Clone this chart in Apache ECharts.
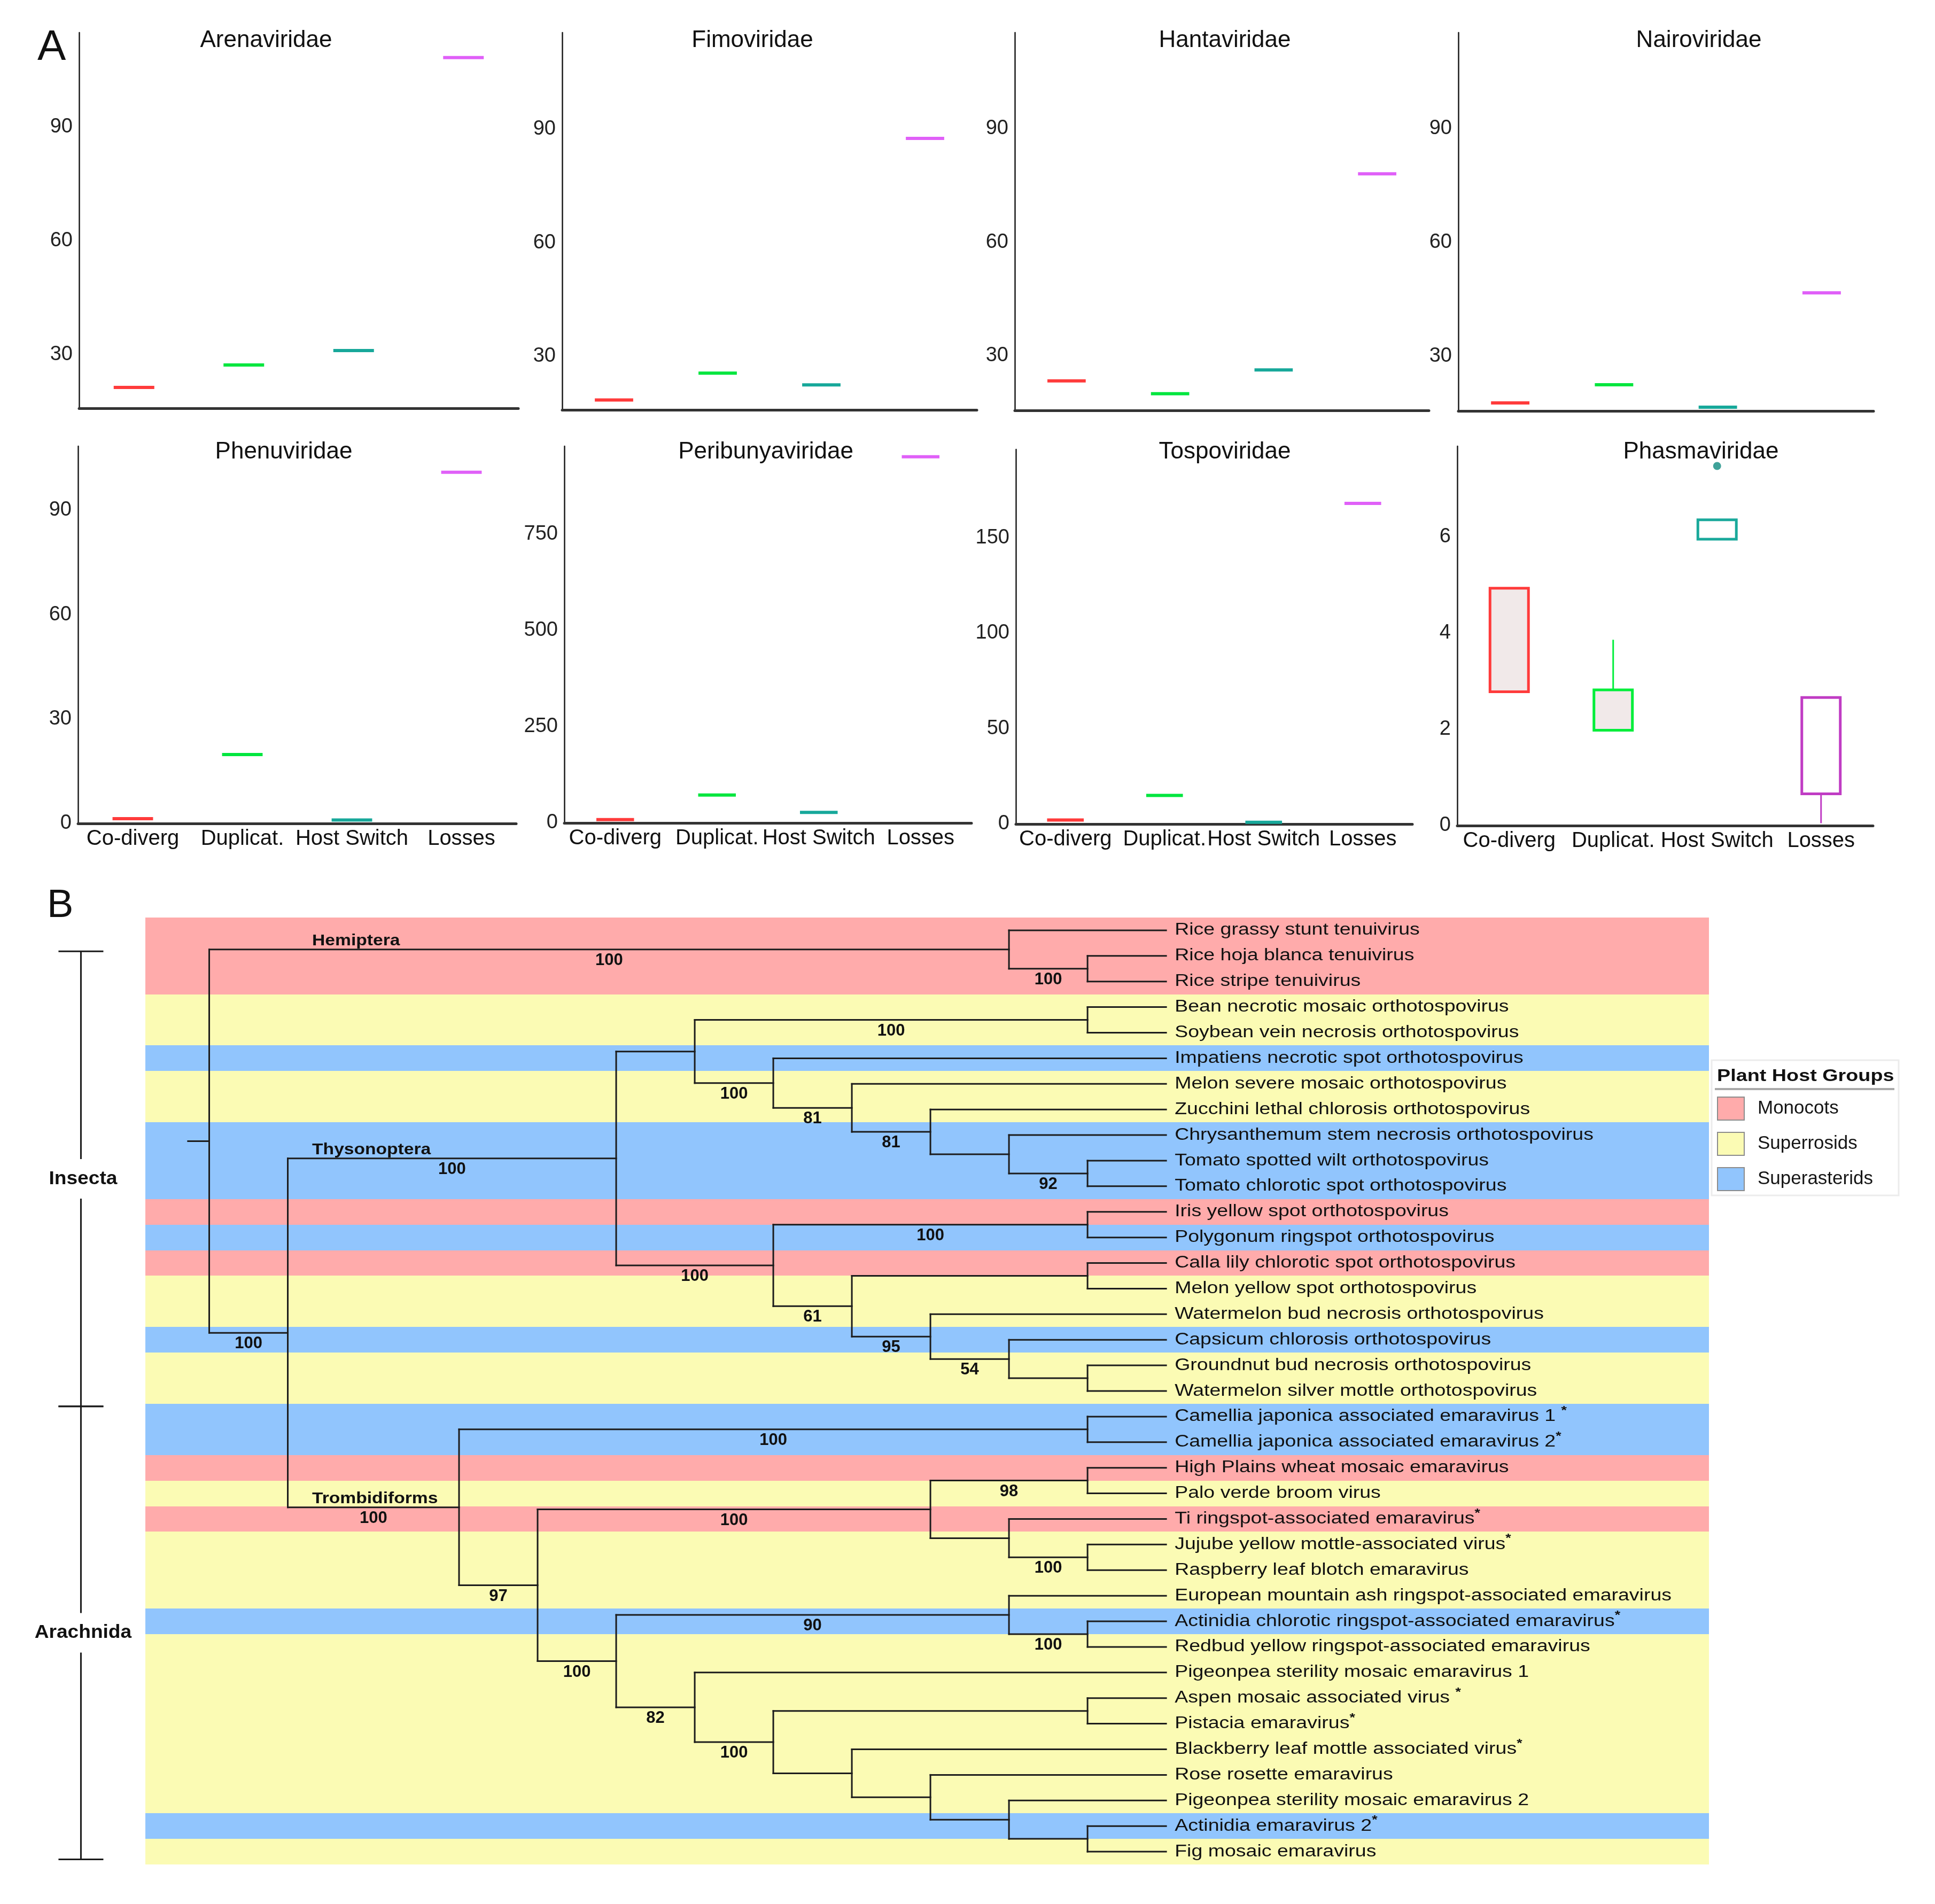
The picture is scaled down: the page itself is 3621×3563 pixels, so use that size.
<!DOCTYPE html>
<html>
<head>
<meta charset="utf-8">
<script src="https://cdn.jsdelivr.net/npm/echarts@6.0.0/dist/echarts.min.js"></script>
<style>
html, body { margin: 0; padding: 0; background: #ffffff; }
#chart { width: 3621px; height: 3563px; }
</style>
</head>
<body>
<div id="chart"></div>
<script>
// ======================= DATA =======================
// ---- Panel A : reconciliation event counts per family ----
const categories = ['Co-diverg', 'Duplicat.', 'Host Switch', 'Losses'];
const familyNames = ['Arenaviridae', 'Fimoviridae', 'Hantaviridae', 'Nairoviridae',
                     'Phenuviridae', 'Peribunyaviridae', 'Tospoviridae', 'Phasmaviridae'];
// single-valued families: [Co-diverg, Duplicat., Host Switch, Losses]
const arenaviridae     = [21.3, 27.2, 31.0, 108.2];
const fimoviridae      = [18.5, 25.6, 22.5, 87.5];
const hantaviridae     = [23.4, 20.0, 26.3, 78.1];
const nairoviridae     = [17.6, 22.4, 16.5, 46.7];
const phenuviridae     = [1.4, 19.8, 1.0, 100.9];
const peribunyaviridae = [8.5, 72.4, 27.3, 950.6];
const tospoviridae     = [2.1, 15.0, 0.9, 167.9];
// Phasmaviridae box statistics: [min, Q1, median, Q3, max]
const phasmaCodiverg   = [2.78, 2.78, 4.93, 4.93, 4.93];
const phasmaDuplicat   = [1.98, 1.98, 2.82, 2.82, 3.86];
const phasmaHostSwitch = [5.95, 5.95, 6.35, 6.35, 6.35];
const phasmaLosses     = [0.05, 0.66, 2.66, 2.66, 2.66];
const phasmaOutliers   = [[2, 7.47]];
// value-axis ranges and labelled tick values
const axisMin = [15.8, 15.9, 15.6, 15.5, 0, 0, 0, 0];
const axisMax = [114.8, 115.4, 115.4, 115.4, 108.4, 978, 196.2, 7.88];
const tickValues = [[30, 60, 90], [30, 60, 90], [30, 60, 90], [30, 60, 90],
                    [0, 30, 60, 90], [0, 250, 500, 750], [0, 50, 100, 150], [0, 2, 4, 6]];

// ---- Panel B : phylogeny ----
const leafNames = [
  'Rice grassy stunt tenuivirus', 'Rice hoja blanca tenuivirus', 'Rice stripe tenuivirus',
  'Bean necrotic mosaic orthotospovirus', 'Soybean vein necrosis orthotospovirus',
  'Impatiens necrotic spot orthotospovirus', 'Melon severe mosaic orthotospovirus',
  'Zucchini lethal chlorosis orthotospovirus', 'Chrysanthemum stem necrosis orthotospovirus',
  'Tomato spotted wilt orthotospovirus', 'Tomato chlorotic spot orthotospovirus',
  'Iris yellow spot orthotospovirus', 'Polygonum ringspot orthotospovirus',
  'Calla lily chlorotic spot orthotospovirus', 'Melon yellow spot orthotospovirus',
  'Watermelon bud necrosis orthotospovirus', 'Capsicum chlorosis orthotospovirus',
  'Groundnut bud necrosis orthotospovirus', 'Watermelon silver mottle orthotospovirus',
  'Camellia japonica associated emaravirus 1 *', 'Camellia japonica associated emaravirus 2*',
  'High Plains wheat mosaic emaravirus', 'Palo verde broom virus', 'Ti ringspot-associated emaravirus*',
  'Jujube yellow mottle-associated virus*', 'Raspberry leaf blotch emaravirus',
  'European mountain ash ringspot-associated emaravirus',
  'Actinidia chlorotic ringspot-associated emaravirus*', 'Redbud yellow ringspot-associated emaravirus',
  'Pigeonpea sterility mosaic emaravirus 1', 'Aspen mosaic associated virus *', 'Pistacia emaravirus*',
  'Blackberry leaf mottle associated virus*', 'Rose rosette emaravirus',
  'Pigeonpea sterility mosaic emaravirus 2', 'Actinidia emaravirus 2*', 'Fig mosaic emaravirus'
];
// host group per leaf: M = Monocots, R = Superrosids, A = Superasterids
const leafHosts = ['M','M','M','R','R','A','R','R','A','A','A','M','A','M','R','R','A','R','R',
                   'A','A','M','R','M','R','R','R','A','R','R','R','R','R','R','R','A','R'];
const hostGroups = ['Monocots', 'Superrosids', 'Superasterids'];
const hostCodes = ['M', 'R', 'A'];
// tree topology: d = node depth, b = bootstrap support, clade = clade name, c = children (leaf indices or nodes)
const tree = {d: 0, c: [
  {d: 10.18, b: 100, clade: 'Hemiptera', c: [0, {d: 11.18, b: 100, c: [1, 2]}]},
  {d: 1, b: 100, c: [
    {d: 5.18, b: 100, clade: 'Thysonoptera', c: [
      {d: 6.18, c: [
        {d: 11.18, b: 100, c: [3, 4]},
        {d: 7.18, b: 100, c: [5, {d: 8.18, b: 81, c: [6, {d: 9.18, b: 81, c: [7,
          {d: 10.18, c: [8, {d: 11.18, b: 92, c: [9, 10]}]}]}]}]}
      ]},
      {d: 7.18, b: 100, c: [
        {d: 11.18, b: 100, c: [11, 12]},
        {d: 8.18, b: 61, c: [
          {d: 11.18, c: [13, 14]},
          {d: 9.18, b: 95, c: [15, {d: 10.18, b: 54, c: [16, {d: 11.18, c: [17, 18]}]}]}
        ]}
      ]}
    ]},
    {d: 3.18, b: 100, clade: 'Trombidiforms', c: [
      {d: 11.18, b: 100, c: [19, 20]},
      {d: 4.18, b: 97, c: [
        {d: 9.18, b: 100, c: [{d: 11.18, b: 98, c: [21, 22]}, {d: 10.18, c: [23, {d: 11.18, b: 100, c: [24, 25]}]}]},
        {d: 5.18, b: 100, c: [
          {d: 10.18, b: 90, c: [26, {d: 11.18, b: 100, c: [27, 28]}]},
          {d: 6.18, b: 82, c: [29, {d: 7.18, b: 100, c: [
            {d: 11.18, c: [30, 31]},
            {d: 8.18, c: [32, {d: 9.18, c: [33, {d: 10.18, c: [34, {d: 11.18, c: [35, 36]}]}]}]}
          ]}]}
        ]}
      ]}
    ]}
  ]}
]};
// arthropod vector classes: [first row position, last row position]
const taxonNames = ['Insecta', 'Arachnida'];
const taxonRanges = [[0.82, 18.6], [18.6, 36.3]];

// ======================= STYLE / LAYOUT =======================
const FONT = '"Liberation Sans", Arial, Helvetica, sans-serif';
const markColors = ['#ff3b3b', '#00e63e', '#17a89a', '#e060f8'];
const phasmaColors = ['#ff3b3b', '#00ee3a', '#1aa99b', '#c03cc4'];
const phasmaFills = ['#f1e9e9', '#f1e9e9', '#ffffff', '#ffffff'];
const hostColors = ['#ffabab', '#fbfbb4', '#91c5fd'];
const gridBoxes = [[148, 61, 822, 703], [1052, 61, 776, 706], [1899, 61, 775, 707], [2729, 61, 777, 708],
                   [146, 835, 820, 706], [1056, 835, 762, 705], [1901, 841, 742, 701], [2727, 835, 778, 710]];
const titleX = [498, 1408, 2292, 3179, 531, 1433, 2292, 3183];
const titleY = [78, 78, 78, 78, 848, 848, 848, 848];
const LEAF_DEPTH = 12.18, ROOT_STEM = -0.27, CLADE_X = 1.31, BAND_START = -0.813, BRACKET_X = -1.633;

// ======================= BUILD =======================
const chart = echarts.init(document.getElementById('chart'), null, {renderer: 'canvas', width: 3621, height: 3563});

function makeBoxRenderer(strokes, fills) {
  return function (params, api) {
    const cat = api.value(0);
    const mn = api.value(1), q1 = api.value(2), md = api.value(3), q3 = api.value(4), mx = api.value(5);
    const color = strokes[params.dataIndex];
    const fill = fills ? fills[params.dataIndex] : '#fff';
    const band = api.size([1, 0])[0];
    const w = Math.min(band * 0.37, 76);
    const top = api.coord([cat, q3]);
    const bot = api.coord([cat, q1]);
    const cx = top[0];
    const kids = [];
    if (q3 === q1) {
      kids.push({type: 'line', shape: {x1: cx - w / 2, y1: top[1], x2: cx + w / 2, y2: top[1]},
                 style: {stroke: color, lineWidth: 6}});
      return {type: 'group', children: kids};
    }
    if (mx > q3) {
      const p = api.coord([cat, mx]);
      kids.push({type: 'line', shape: {x1: cx, y1: p[1], x2: cx, y2: top[1]}, style: {stroke: color, lineWidth: 3}});
    }
    if (mn < q1) {
      const p = api.coord([cat, mn]);
      kids.push({type: 'line', shape: {x1: cx, y1: bot[1], x2: cx, y2: p[1]}, style: {stroke: color, lineWidth: 3}});
    }
    kids.push({type: 'rect', shape: {x: cx - w / 2, y: top[1], width: w, height: bot[1] - top[1]},
               style: {fill: fill, stroke: color, lineWidth: 5}});
    if (md > q1 && md < q3) {
      const p = api.coord([cat, md]);
      kids.push({type: 'line', shape: {x1: cx - w / 2, y1: p[1], x2: cx + w / 2, y2: p[1]}, style: {stroke: color, lineWidth: 5}});
    }
    return {type: 'group', children: kids};
  };
}

const singleFamilies = [arenaviridae, fimoviridae, hantaviridae, nairoviridae, phenuviridae, peribunyaviridae, tospoviridae];
const phasmaBoxes = [phasmaCodiverg, phasmaDuplicat, phasmaHostSwitch, phasmaLosses];

const grids = [], xAxes = [], yAxes = [], series = [], titles = [];
for (let i = 0; i < 8; i++) {
  const g = gridBoxes[i];
  grids.push({left: g[0], top: g[1], width: g[2], height: g[3], containLabel: false});
  xAxes.push({
    gridIndex: i, type: 'category', data: categories, boundaryGap: true,
    axisLine: {show: true, lineStyle: {color: '#333', width: 5}},
    axisTick: {show: false}, splitLine: {show: false},
    axisLabel: {show: i >= 4, interval: 0, margin: 9, fontSize: 40, color: '#111', fontFamily: FONT}
  });
  yAxes.push({
    gridIndex: i, type: 'value', min: axisMin[i], max: axisMax[i],
    axisLine: {show: true, lineStyle: {color: '#1a1a1a', width: 2.5}},
    axisTick: {show: false}, splitLine: {show: false},
    axisLabel: {customValues: tickValues[i], margin: 12, fontSize: 38, color: '#222', fontFamily: FONT}
  });
  titles.push({
    text: familyNames[i], left: titleX[i], top: titleY[i] - 24, textAlign: 'center', padding: 0,
    textStyle: {fontSize: 44, fontWeight: 'normal', color: '#111', fontFamily: FONT}
  });
  let data, strokes, fills;
  if (i < 7) {
    data = singleFamilies[i].map((v, k) => [k, v, v, v, v, v]);
    strokes = markColors; fills = null;
  } else {
    data = phasmaBoxes.map((b, k) => [k].concat(b));
    strokes = phasmaColors; fills = phasmaFills;
  }
  series.push({
    type: 'custom', name: familyNames[i], xAxisIndex: i, yAxisIndex: i,
    renderItem: makeBoxRenderer(strokes, fills), data: data,
    encode: {x: 0, y: [1, 2, 3, 4, 5]}, z: 3
  });
}
series.push({
  type: 'scatter', name: 'Phasmaviridae outliers', xAxisIndex: 7, yAxisIndex: 7,
  data: phasmaOutliers, symbol: 'circle', symbolSize: 15, itemStyle: {color: '#0f8b80'}, z: 4
});

// ---- Panel B layout from tree topology ----
const segments = [], bootstraps = [], cladePoints = [], cladeNames = [];
function layout(node) {
  if (typeof node === 'number') return {d: LEAF_DEPTH, y: node};
  const kids = node.c.map(layout);
  const y0 = kids[0].y, y1 = kids[kids.length - 1].y;
  segments.push([node.d, y0, node.d, y1]);
  kids.forEach((k, j) => {
    segments.push([node.d, k.y, k.d, k.y]);
    const src = node.c[j];
    if (typeof src !== 'number') {
      if (src.b != null) bootstraps.push([(node.d + k.d) / 2, k.y, src.b]);
      if (src.clade) { cladePoints.push([CLADE_X, k.y]); cladeNames.push(src.clade); }
    }
  });
  return {d: node.d, y: (y0 + y1) / 2};
}
const rootPos = layout(tree);
segments.push([ROOT_STEM, rootPos.y, 0, rootPos.y]);

const TG = 8; // tree grid index
grids.push({left: 40, top: 1717, width: 3158, height: 1772, containLabel: false});
xAxes.push({gridIndex: TG, type: 'value', min: -2.391, max: 19.09, show: false});
yAxes.push({gridIndex: TG, type: 'value', min: -0.5, max: 36.5, inverse: true, show: false});

hostGroups.forEach((hName, h) => {
  const rows = [];
  leafHosts.forEach((c, i) => { if (c === hostCodes[h]) rows.push([BAND_START, i]); });
  series.push({
    type: 'custom', name: hName, xAxisIndex: TG, yAxisIndex: TG, data: rows,
    itemStyle: {color: hostColors[h]}, z: 1,
    renderItem: function (params, api) {
      const a = api.coord([api.value(0), api.value(1) - 0.5]);
      const b = api.coord([api.value(0), api.value(1) + 0.5]);
      const right = params.coordSys.x + params.coordSys.width;
      const y0 = Math.round(a[1]), y1 = Math.round(b[1]);
      return {type: 'rect', shape: {x: Math.round(a[0]), y: y0, width: right - Math.round(a[0]), height: y1 - y0},
              style: {fill: hostColors[h]}};
    }
  });
});

series.push({
  type: 'custom', name: 'branches', xAxisIndex: TG, yAxisIndex: TG, data: segments, z: 3,
  encode: {x: [0, 2], y: [1, 3]},
  renderItem: function (params, api) {
    const a = api.coord([api.value(0), api.value(1)]);
    const b = api.coord([api.value(2), api.value(3)]);
    return {type: 'line', shape: {x1: a[0], y1: a[1], x2: b[0], y2: b[1]},
            style: {stroke: '#1c1c1c', lineWidth: 3, lineCap: 'square'}};
  }
});

series.push({
  type: 'custom', name: 'bootstrap', xAxisIndex: TG, yAxisIndex: TG, data: bootstraps, z: 4,
  renderItem: function (params, api) {
    const p = api.coord([api.value(0), api.value(1)]);
    return {type: 'text', x: p[0], y: p[1] + 5,
            style: {text: String(api.value(2)), fontSize: 31, fontWeight: 'bold', fontFamily: FONT,
                    fill: '#111', align: 'center', verticalAlign: 'top'}};
  }
});

series.push({
  type: 'custom', name: 'clades', xAxisIndex: TG, yAxisIndex: TG, data: cladePoints, z: 4,
  renderItem: function (params, api) {
    const p = api.coord([api.value(0), api.value(1)]);
    return {type: 'text', x: p[0], y: p[1] - 1, scaleX: 1.12,
            style: {text: cladeNames[params.dataIndex], fontSize: 30, fontWeight: 'bold', fontFamily: FONT,
                    fill: '#111', align: 'left', verticalAlign: 'bottom'}};
  }
});

series.push({
  type: 'custom', name: 'leaves', xAxisIndex: TG, yAxisIndex: TG, z: 4,
  data: leafNames.map((n, i) => [LEAF_DEPTH, i]),
  renderItem: function (params, api) {
    const p = api.coord([api.value(0), api.value(1)]);
    const name = leafNames[params.dataIndex];
    const txt = name.endsWith('*') ? name.slice(0, -1) + '{s|*}' : name;
    return {type: 'text', x: p[0] + 16, y: p[1], scaleX: 1.21,
            style: {text: txt, fontSize: 31, fontFamily: FONT, fill: '#111', align: 'left', verticalAlign: 'middle',
                    rich: {s: {fontSize: 22, fontWeight: 'bold', fontFamily: FONT, fill: '#111', padding: [0, 0, 22, 0]}}}};
  }
});

series.push({
  type: 'custom', name: 'vector classes', xAxisIndex: TG, yAxisIndex: TG, z: 4,
  data: taxonRanges.map(r => [BRACKET_X, r[0], r[1]]),
  renderItem: function (params, api) {
    const t = api.coord([api.value(0), api.value(1)]);
    const b = api.coord([api.value(0), api.value(2)]);
    const x = t[0], mid = (t[1] + b[1]) / 2, gap = 37, half = 42;
    const st = {stroke: '#1a1a1a', lineWidth: 3};
    return {type: 'group', children: [
      {type: 'line', shape: {x1: x - half, y1: t[1], x2: x + half, y2: t[1]}, style: st},
      {type: 'line', shape: {x1: x - half, y1: b[1], x2: x + half, y2: b[1]}, style: st},
      {type: 'line', shape: {x1: x, y1: t[1], x2: x, y2: mid - gap}, style: st},
      {type: 'line', shape: {x1: x, y1: mid + gap, x2: x, y2: b[1]}, style: st},
      {type: 'text', x: x + 4, y: mid, scaleX: 1.06,
       style: {text: taxonNames[params.dataIndex], fontSize: 35, fontWeight: 'bold', fontFamily: FONT,
               fill: '#111', align: 'center', verticalAlign: 'middle'}}
    ]};
  }
});

const option = {
  animation: false,
  backgroundColor: '#ffffff',
  title: titles,
  grid: grids,
  xAxis: xAxes,
  yAxis: yAxes,
  series: series,
  legend: {
    data: hostGroups, orient: 'vertical', left: 3213, top: 2052, padding: 0,
    itemWidth: 50, itemHeight: 43, itemGap: 21, icon: 'rect', selectedMode: false,
    itemStyle: {borderColor: '#8c8c8c', borderWidth: 2},
    textStyle: {fontSize: 35, color: '#151515', fontFamily: FONT, padding: [0, 0, 0, 20]},
    z: 10
  },
  graphic: [
    {type: 'text', x: 70, y: 90, style: {text: 'A', fontSize: 80, fontFamily: FONT, fill: '#111', verticalAlign: 'middle'}},
    {type: 'text', x: 88, y: 1696, style: {text: 'B', fontSize: 74, fontFamily: FONT, fill: '#111', verticalAlign: 'middle'}},
    {type: 'rect', z: 1, shape: {x: 3203, y: 1984, width: 350, height: 253},
     style: {fill: '#ffffff', stroke: '#ececec', lineWidth: 3}},
    {type: 'text', z: 2, x: 3213, y: 2014, scaleX: 1.18,
     style: {text: 'Plant Host Groups', fontSize: 32, fontWeight: 'bold', fontFamily: FONT, fill: '#111', verticalAlign: 'middle'}},
    {type: 'line', z: 2, shape: {x1: 3209, y1: 2038, x2: 3545, y2: 2038}, style: {stroke: '#a9a9a9', lineWidth: 4}}
  ]
};
chart.setOption(option);
</script>
</body>
</html>
